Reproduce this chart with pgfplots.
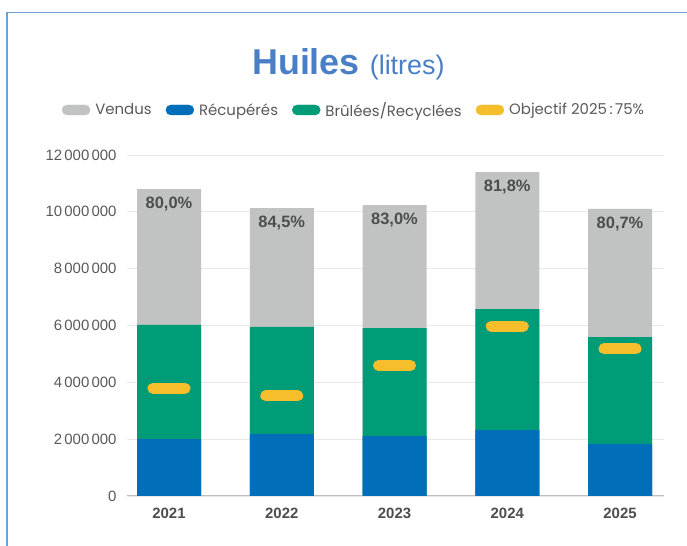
\documentclass[border=0pt]{standalone}
\usepackage{fontspec}
\setmainfont{Liberation Sans}
\newfontfamily\legfont{Poppins}
\usepackage{pgfplots}
\pgfplotsset{compat=1.18}
\usepackage{pgfplotstable}

\definecolor{cVendus}{HTML}{C1C3C2}
\definecolor{cRecup}{HTML}{006EB8}
\definecolor{cBrul}{HTML}{009B77}
\definecolor{cObj}{HTML}{F7BE2B}
\definecolor{cTitle}{HTML}{4A7FC6}
\definecolor{cFrame}{HTML}{6F9ED9}
\definecolor{cText}{HTML}{595959}
\definecolor{cDark}{HTML}{4D4D4D}
\definecolor{cGrid}{HTML}{E8E8E8}
\definecolor{cAxis}{HTML}{BFBFBF}

% totals (litres)
\pgfplotstableread{
x vendus  brulees recup   objectif pct
0 10800000 6020000 2000000 3790000 80,0
1 10130000 5950000 2180000 3530000 84,5
2 10240000 5910000 2110000 4590000 83,0
3 11400000 6580000 2320000 5970000 81,8
4 10100000 5590000 1830000 5180000 80,7
}\datatable

\begin{document}
\begin{tikzpicture}
\path[use as bounding box] (0bp,0bp) rectangle (687bp,546bp);
\draw[cFrame, line width=1.2bp] (7bp,0bp) -- (7bp,533.5bp) -- (687bp,533.5bp);
\node[anchor=base west, text=cTitle, inner sep=0pt] at (252bp,471bp)
  {\fontsize{36}{40}\selectfont\bfseries Huiles\hspace{10bp}\fontsize{27}{30}\selectfont\mdseries(litres)};

\begin{axis}[
    at={(127bp,50bp)}, anchor=south west,
    scale only axis, width=537bp, height=341bp,
    xmin=-0.3725, xmax=4.39, ymin=0, ymax=12000000,
    axis x line*=bottom, axis y line*=left,
    x axis line style={cAxis, line width=1bp},
    y axis line style={draw=none},
    major tick length=0pt,
    xtick={0,1,2,3,4}, xticklabels={2021,2022,2023,2024,2025},
    ytick={0,2000000,4000000,6000000,8000000,10000000,12000000},
    scaled y ticks=false,
    ymajorgrids, major grid style={cGrid, line width=0.9bp},
    yticklabel style={text=cText, font=\fontsize{15}{17}\selectfont, xshift=-7bp,
      /pgf/number format/fixed, /pgf/number format/1000 sep={\kern2.2bp},
      /pgf/number format/assume math mode=true},
    xticklabel style={text=cDark, font=\bfseries\fontsize{15}{18}\selectfont, yshift=-9bp},
    legend style={draw=none, fill=none, legend columns=4,
      at={(0.4227,1.132)}, anchor=center,
      font=\legfont\fontsize{15}{18}\selectfont, text=cText,
      /tikz/every odd column/.append style={column sep=3bp},
      /tikz/every even column/.append style={column sep=12bp}},
    clip=false,
]
\addlegendimage{legend image code/.code={\fill[cVendus, rounded corners=5bp] (0bp,-5bp) rectangle (28bp,5bp);}}
\addlegendentry{Vendus}
\addlegendimage{legend image code/.code={\fill[cRecup, rounded corners=5bp] (0bp,-5bp) rectangle (28bp,5bp);}}
\addlegendentry{Récupérés}
\addlegendimage{legend image code/.code={\fill[cBrul, rounded corners=5bp] (0bp,-5bp) rectangle (28bp,5bp);}}
\addlegendentry{Brûlées/Recyclées}
\addlegendimage{legend image code/.code={\fill[cObj, rounded corners=5bp] (0bp,-5bp) rectangle (28bp,5bp);}}
\addlegendentry{Objectif 2025\,:\,75\%}

\addplot[ybar, bar width=64bp, bar shift=0pt, fill=cVendus, draw=none, forget plot,
  point meta=explicit symbolic,
  nodes near coords={\pgfplotspointmeta\%},
  every node near coord/.append style={anchor=north, yshift=-4.5bp, text=cDark,
    font=\bfseries\fontsize{16.5}{20}\selectfont}]
  table[x=x, y=vendus, meta=pct] {\datatable};
\addplot[ybar, bar width=64bp, bar shift=0pt, fill=cBrul, draw=none, forget plot]
  table[x=x, y=brulees] {\datatable};
\addplot[ybar, bar width=64bp, bar shift=0pt, fill=cRecup, draw=none, forget plot]
  table[x=x, y=recup] {\datatable};
\addplot[only marks, mark=-, mark size=16bp, forget plot,
  mark options={draw=cObj, line width=11bp, line cap=round}]
  table[x=x, y=objectif] {\datatable};
\end{axis}
\end{tikzpicture}
\end{document}
